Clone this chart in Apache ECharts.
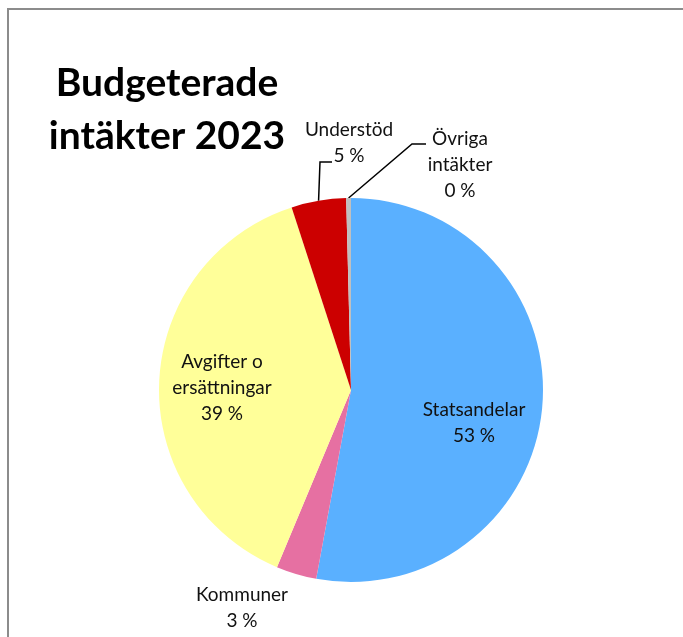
<!DOCTYPE html>
<html>
<head>
<meta charset="utf-8">
<script src="https://cdn.jsdelivr.net/npm/echarts@6/dist/echarts.min.js"></script>
<style>
html,body{margin:0;padding:0;background:#fff;}
#frame{position:absolute;left:7px;top:8px;width:676px;height:629px;border-left:2px solid #8c8c8c;border-top:2px solid #8c8c8c;box-sizing:border-box;}
#chart{position:absolute;left:0;top:0;width:683px;height:637px;}
</style>
</head>
<body>
<div id="frame"></div>
<div id="chart"></div>
<script>
const titleText = 'Budgeterade\nintäkter 2023';
const categories = ['Statsandelar', 'Kommuner', 'Avgifter o\nersättningar', 'Understöd', 'Övriga\nintäkter'];
const values = [52.9, 3.4, 38.7, 4.6, 0.4];
const colors = ['#5AB0FF', '#E670A2', '#FFFF99', '#CC0000', '#BFBFBF'];

// label placement (text block centres) and leader line elbows
const labelPos = [[474, 423], [242, 608], [222, 388], [349, 143], [460, 165]];
const leaderElbows = [null, null, null, [[320, 162], [332, 162]], [[412, 144], [426, 144]]];

const cx = 351, cy = 390, R = 192;
const total = values.reduce((a, b) => a + b, 0);
function edgePoint(i) {
  let cum = 0;
  for (let k = 0; k < i; k++) cum += values[k];
  const mid = (cum + values[i] / 2) / total * 2 * Math.PI;
  return [cx + R * Math.sin(mid), cy - R * Math.cos(mid)];
}

const chart = echarts.init(document.getElementById('chart'), null, {renderer: 'canvas'});
chart.setOption({
  animation: false,
  title: {
    text: titleText,
    left: 162,
    top: 52,
    textAlign: 'center',
    textStyle: {fontFamily: 'Lato', fontWeight: 'bold', fontSize: 39, lineHeight: 53, color: '#000'}
  },
  series: [{
    type: 'pie',
    center: [cx, cy],
    radius: [0, R],
    startAngle: 90,
    clockwise: true,
    percentPrecision: 0,
    label: {
      show: true,
      position: 'outside',
      formatter: p => p.name + '\n' + p.percent + ' %',
      fontFamily: 'Lato',
      fontSize: 19,
      lineHeight: 26,
      color: '#111',
      align: 'center'
    },
    labelLine: {show: true, length: 10, length2: 10, lineStyle: {color: '#000', width: 1.5}},
    labelLayout: function (params) {
      const i = params.dataIndex;
      const res = {x: labelPos[i][0], y: labelPos[i][1], align: 'center', verticalAlign: 'middle'};
      if (leaderElbows[i]) {
        res.labelLinePoints = [edgePoint(i)].concat(leaderElbows[i]);
      }
      return res;
    },
    itemStyle: {borderWidth: 0},
    emphasis: {disabled: true},
    data: categories.map((c, i) => ({
      name: c,
      value: values[i],
      itemStyle: {color: colors[i]},
      labelLine: {show: !!leaderElbows[i]}
    }))
  }]
});
</script>
</body>
</html>
